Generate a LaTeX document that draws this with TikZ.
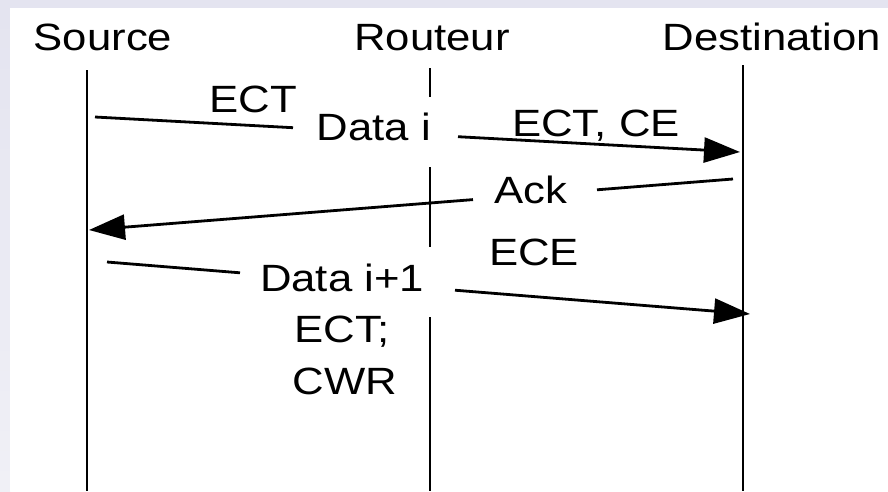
\documentclass[tikz,border=0pt]{standalone}
\usepackage{fontspec}
\setmainfont{Liberation Sans}[FakeStretch=1.15]
\usetikzlibrary{arrows.meta}
\definecolor{frame}{RGB}{228,228,240}
\definecolor{framelight}{RGB}{240,240,246}
\begin{document}
\begin{tikzpicture}[x=1pt,y=-1pt,
  lbl/.style={inner sep=0pt,anchor=base,font=\fontsize{38}{45}\selectfont},
  life/.style={line width=2.8pt,draw=black},
  msg/.style={line width=2.8pt,draw=black},
  tip/.style={-{Triangle[length=36pt,width=25pt]}}]
% page and frame
\useasboundingbox (0,0) rectangle (888,491);
\fill[frame] (0,0) rectangle (888,491);
\shade[top color=frame,bottom color=framelight] (0,8) rectangle (10,491);
\fill[white] (10,8) rectangle (888,491);

% lifeline heads
\node[lbl] (src) at (103,50) {Source};
\node[lbl] (rtr) at (432,50) {Routeur};
\node[lbl] (dst) at (772,50) {Destination};

% lifeline ends
\coordinate (srcT) at (87,70);   \coordinate (srcB) at (87,491);
\coordinate (dstT) at (743,65);  \coordinate (dstB) at (743,491);
\coordinate (r1a) at (430,68);   \coordinate (r1b) at (430,97);
\coordinate (r2a) at (430,167);  \coordinate (r2b) at (430,247);
\coordinate (r3a) at (430,317);  \coordinate (r3b) at (430,491);

\draw[life] (srcT) -- (srcB);
\draw[life] (dstT) -- (dstB);
\draw[life] (r1a) -- (r1b);
\draw[life] (r2a) -- (r2b);
\draw[life] (r3a) -- (r3b);

% message 1: Source -> Destination
\node[lbl] (m1a) at (253,112) {ECT};
\node[lbl] (m1b) at (374,140) {Data i};
\node[lbl] (m1c) at (596,136) {ECT, CE};
\coordinate (m1s) at (95,117);
\coordinate (m1g1) at (293,127.7);
\coordinate (m1g2) at (458,136.7);
\coordinate (m1e) at (740,152);
\draw[msg] (m1s) -- (m1g1);
\draw[msg,tip] (m1g2) -- (m1e);

% message 2: Destination -> Source
\node[lbl] (m2a) at (531,203) {Ack};
\node[lbl] (m2b) at (534,265) {ECE};
\coordinate (m2s) at (733,179);
\coordinate (m2g1) at (597,189.8);
\coordinate (m2g2) at (473,199.6);
\coordinate (m2e) at (89,230);
\draw[msg] (m2s) -- (m2g1);
\draw[msg,tip] (m2g2) -- (m2e);

% message 3: Source -> Destination
\node[lbl] (m3a) at (342,291) {Data i+1};
\node[lbl] (m3b) at (342,342) {ECT;};
\node[lbl] (m3c) at (345,394) {CWR};
\coordinate (m3s) at (107,262);
\coordinate (m3g1) at (240,272.8);
\coordinate (m3g2) at (455,290.2);
\coordinate (m3e) at (750,314);
\draw[msg] (m3s) -- (m3g1);
\draw[msg,tip] (m3g2) -- (m3e);
\end{tikzpicture}
\end{document}
